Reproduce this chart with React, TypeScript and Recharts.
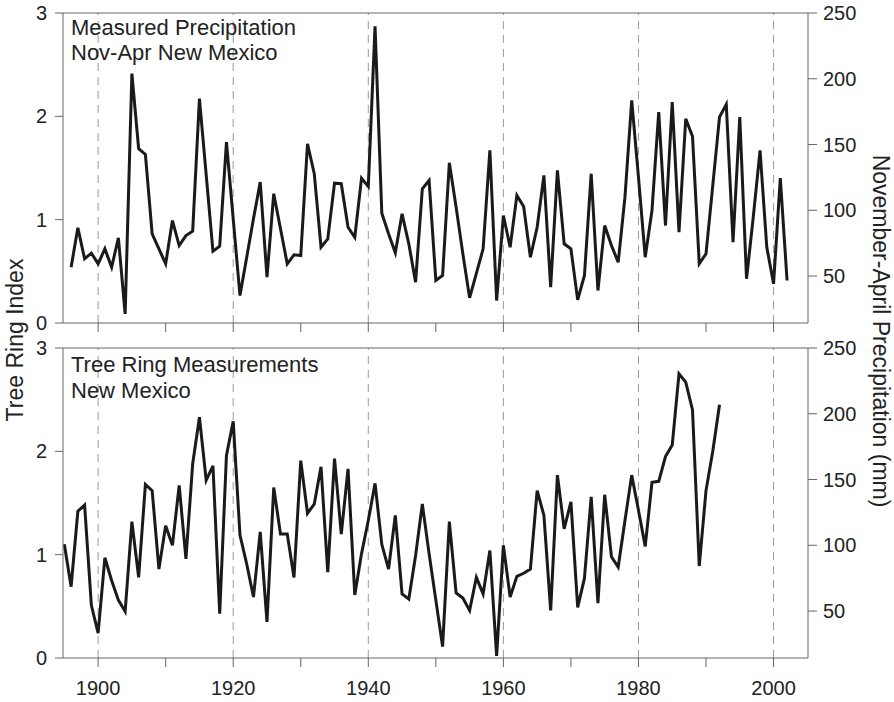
import { LineChart, Line, XAxis, YAxis, ReferenceLine } from "recharts"

const FONT = "'Liberation Sans', Arial, Helvetica, sans-serif"

// measured Nov-Apr precipitation (mm), top panel
const precipYears = [
  1896, 1897, 1898, 1899, 1900, 1901, 1902, 1903, 1904, 1905,
  1906, 1907, 1908, 1909, 1910, 1911, 1912, 1913, 1914, 1915,
  1916, 1917, 1918, 1919, 1920, 1921, 1922, 1923, 1924, 1925,
  1926, 1927, 1928, 1929, 1930, 1931, 1932, 1933, 1934, 1935,
  1936, 1937, 1938, 1939, 1940, 1941, 1942, 1943, 1944, 1945,
  1946, 1947, 1948, 1949, 1950, 1951, 1952, 1953, 1954, 1955,
  1956, 1957, 1958, 1959, 1960, 1961, 1962, 1963, 1964, 1965,
  1966, 1967, 1968, 1969, 1970, 1971, 1972, 1973, 1974, 1975,
  1976, 1977, 1978, 1979, 1980, 1981, 1982, 1983, 1984, 1985,
  1986, 1987, 1988, 1989, 1990, 1991, 1992, 1993, 1994, 1995,
  1996, 1997, 1998, 1999, 2000, 2001, 2002,
]
const precipMm = [
  56.7, 86.7, 63.1, 67.4, 59.3, 70.7, 56.7, 79.1, 21.2, 203.9,
  146.8, 142.5, 82.1, 70.7, 59.3, 92.2, 73.2, 80.8, 84.1, 184.9,
  127, 68.9, 72.7, 151.8, 93.5, 35.2, 64.3, 93.5, 121.4, 49.1,
  112.6, 85.9, 59.3, 66.1, 65.6, 150.6, 127.8, 71.9, 78.3, 120.6,
  120.2, 87.1, 79.5, 124.4, 118.1, 239.9, 97.8, 82.1, 67.7, 97.3,
  74.5, 45.3, 116.4, 122.7, 46.6, 50.4, 136.1, 102.4, 66.9, 33.4,
  52, 70.7, 145.5, 31.4, 96, 71.9, 111.3, 102.9, 64.3, 87.1,
  126.5, 41.5, 130.3, 74.5, 70.7, 31.9, 50.4, 127.8, 39, 88.4,
  73.2, 60.5, 110, 183.6, 125.2, 64.3, 99.8, 174.7, 88.4, 182.3,
  83.3, 169.6, 156.2, 59.3, 66.9, 118.8, 170.9, 180.5, 75.7, 170.9,
  47.9, 95, 145.5, 71.9, 44.1, 124.4, 46.6,
]

// tree ring index, bottom panel
const ringYears = [
  1895, 1896, 1897, 1898, 1899, 1900, 1901, 1902, 1903, 1904,
  1905, 1906, 1907, 1908, 1909, 1910, 1911, 1912, 1913, 1914,
  1915, 1916, 1917, 1918, 1919, 1920, 1921, 1922, 1923, 1924,
  1925, 1926, 1927, 1928, 1929, 1930, 1931, 1932, 1933, 1934,
  1935, 1936, 1937, 1938, 1939, 1940, 1941, 1942, 1943, 1944,
  1945, 1946, 1947, 1948, 1949, 1950, 1951, 1952, 1953, 1954,
  1955, 1956, 1957, 1958, 1959, 1960, 1961, 1962, 1963, 1964,
  1965, 1966, 1967, 1968, 1969, 1970, 1971, 1972, 1973, 1974,
  1975, 1976, 1977, 1978, 1979, 1980, 1981, 1982, 1983, 1984,
  1985, 1986, 1987, 1988, 1989, 1990, 1991, 1992,
]
const ringIndex = [
  1.10, 0.69, 1.42, 1.48, 0.51, 0.24, 0.97, 0.75, 0.56, 0.45,
  1.32, 0.78, 1.68, 1.62, 0.86, 1.28, 1.09, 1.67, 0.96, 1.88,
  2.33, 1.72, 1.86, 0.43, 1.96, 2.29, 1.19, 0.91, 0.59, 1.22,
  0.35, 1.65, 1.20, 1.20, 0.78, 1.91, 1.40, 1.49, 1.85, 0.83,
  1.93, 1.20, 1.83, 0.61, 1.01, 1.33, 1.69, 1.10, 0.86, 1.38,
  0.62, 0.57, 0.99, 1.49, 1.01, 0.56, 0.11, 1.32, 0.63, 0.58,
  0.46, 0.78, 0.62, 1.04, 0.02, 1.09, 0.59, 0.79, 0.82, 0.86,
  1.62, 1.38, 0.46, 1.77, 1.25, 1.51, 0.49, 0.77, 1.56, 0.53,
  1.58, 0.98, 0.88, 1.33, 1.77, 1.43, 1.08, 1.70, 1.71, 1.95,
  2.06, 2.75, 2.67, 2.40, 0.89, 1.62, 2.00, 2.45,
]

const decadeTicks = [1900, 1910, 1920, 1930, 1940, 1950, 1960, 1970, 1980, 1990, 2000]
const labelledYears = [1900, 1920, 1940, 1960, 1980, 2000]
const indexTicks = [0, 1, 2, 3]
const mmTicks = [50, 100, 150, 200, 250]

const precipData = precipYears.map((year, i) => ({ year, value: precipMm[i] }))
const ringData = ringYears.map((year, i) => ({ year, value: ringIndex[i] }))

const axisColor = "#666"
const tickStyle = { fill: "#222", fontSize: 20, fontFamily: FONT }

function Panel({ data, axis, height, marginTop, xHeight, showLabels }: any) {
  return (
    <LineChart width={894} height={height} data={data} margin={{ top: marginTop, right: 0, bottom: 0, left: 0 }}>
      <XAxis
        dataKey="year"
        type="number"
        domain={[1894.8, 2005.1]}
        allowDataOverflow
        ticks={decadeTicks}
        interval={0}
        tickFormatter={(v) => (showLabels && labelledYears.includes(v) ? String(v) : "")}
        height={xHeight}
        tickSize={9}
        tickMargin={14}
        stroke={axisColor}
        tick={tickStyle}
      />
      <YAxis
        yAxisId="index"
        orientation="left"
        type="number"
        domain={[0, 3]}
        allowDataOverflow
        ticks={indexTicks}
        interval={0}
        width={63}
        tickSize={8}
        tickMargin={8}
        stroke={axisColor}
        tick={tickStyle}
      />
      <YAxis
        yAxisId="mm"
        orientation="right"
        type="number"
        domain={[14.3, 250]}
        allowDataOverflow
        ticks={mmTicks}
        interval={0}
        width={86}
        tickSize={9}
        tickMargin={6}
        stroke={axisColor}
        tick={tickStyle}
      />
      {labelledYears.map((y) => (
        <ReferenceLine key={y} x={y} yAxisId="mm" stroke="#999" strokeDasharray="8 6" />
      ))}
      <ReferenceLine y={250} yAxisId="mm" stroke={axisColor} />
      <Line
        yAxisId={axis}
        dataKey="value"
        type="linear"
        stroke="#1a1a1a"
        strokeWidth={3}
        dot={false}
        isAnimationActive={false}
      />
    </LineChart>
  )
}

export default function App() {
  return (
    <div style={{ position: "absolute", left: 0, top: 0, width: 894, height: 702, background: "#fff" }}>
      <div style={{ position: "absolute", left: 0, top: 0 }}>
        <Panel data={precipData} axis="mm" height={340} marginTop={13} xHeight={17} showLabels={false} />
      </div>
      <div style={{ position: "absolute", left: 0, top: 330 }}>
        <Panel data={ringData} axis="index" height={372} marginTop={18} xHeight={44} showLabels />
      </div>
      <svg width={894} height={702} style={{ position: "absolute", left: 0, top: 0, pointerEvents: "none" }}>
        <g fontFamily={FONT} fill="#222" fontSize={22}>
          <text x={71} y={35}>Measured Precipitation</text>
          <text x={71} y={59.5}>Nov-Apr New Mexico</text>
          <text x={71} y={371.5}>Tree Ring Measurements</text>
          <text x={71} y={397.5}>New Mexico</text>
        </g>
        <text transform="translate(23,340) rotate(-90)" textAnchor="middle" fontFamily={FONT} fontSize={23} fill="#222">
          Tree Ring Index
        </text>
        <text transform="translate(873,331) rotate(90)" textAnchor="middle" fontFamily={FONT} fontSize={23} fill="#222">
          November-April Precipitation (mm)
        </text>
      </svg>
    </div>
  )
}
